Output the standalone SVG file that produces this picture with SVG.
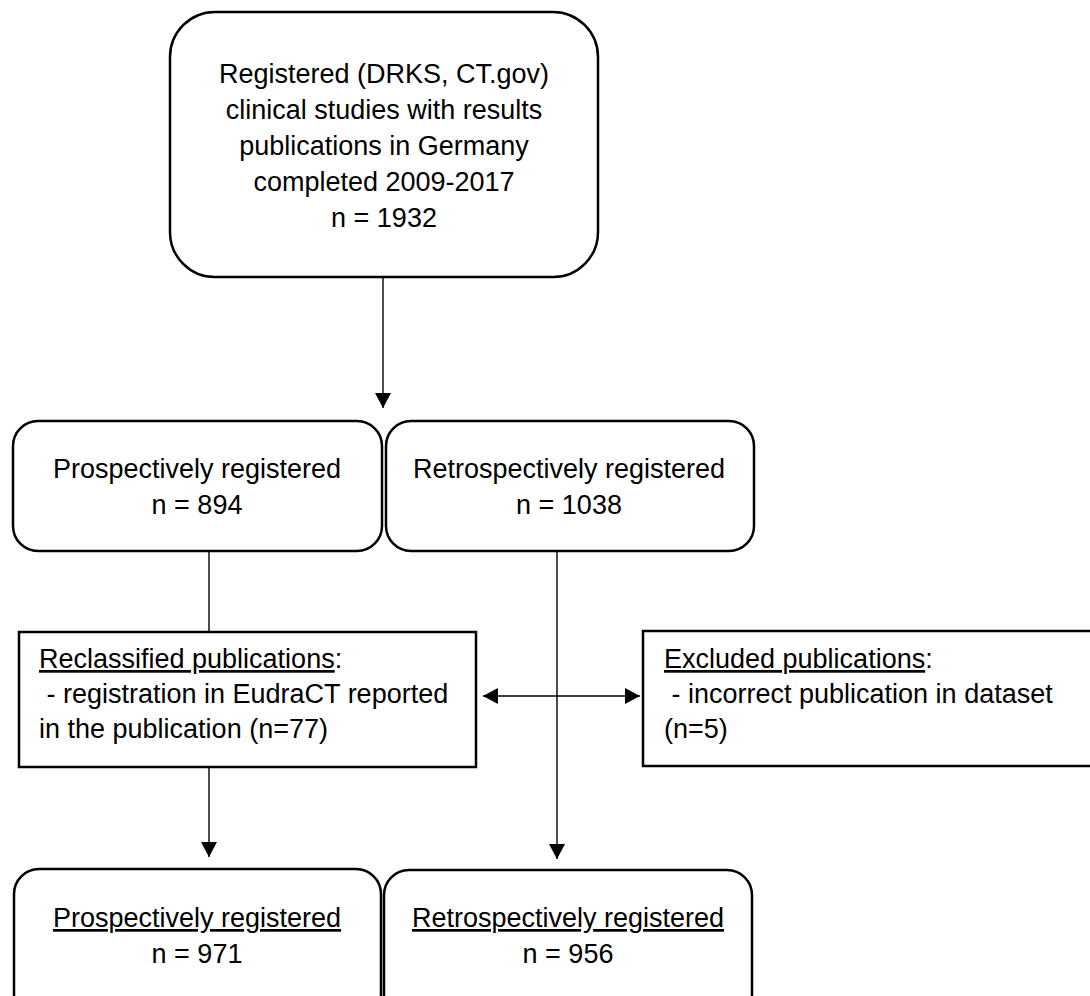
<svg xmlns="http://www.w3.org/2000/svg" width="1090" height="996" viewBox="0 0 1090 996">
<style>
  .box { fill: #ffffff; stroke: #000000; stroke-width: 2.5; }
  .t { font-family: "Liberation Sans", Arial, sans-serif; font-size: 27px; fill: #000000; }
  .c { text-anchor: middle; }
  .u { text-decoration: underline; }
  .conn { stroke: #000000; stroke-width: 1.4; fill: none; }
</style>
<defs>
  <marker id="arr" markerUnits="userSpaceOnUse" markerWidth="18" markerHeight="18" viewBox="0 0 18 18" refX="17" refY="9" orient="auto-start-reverse">
    <path d="M2,1 L17,9 L2,17 Z" fill="#000000"/>
  </marker>
</defs>
<rect width="1090" height="996" fill="#ffffff"/>

<g id="connectors">
  <line class="conn" x1="383" y1="277" x2="383" y2="408" marker-end="url(#arr)"/>
  <line class="conn" x1="209" y1="551" x2="209" y2="632"/>
  <line class="conn" x1="209" y1="767" x2="209" y2="857" marker-end="url(#arr)"/>
  <line class="conn" x1="557" y1="551" x2="557" y2="859" marker-end="url(#arr)"/>
  <line class="conn" x1="483" y1="696" x2="640" y2="696" marker-start="url(#arr)" marker-end="url(#arr)"/>
</g>

<g id="n_registered">
  <rect class="box" x="170" y="12" width="428" height="265" rx="45" ry="45"/>
  <text class="t c" x="384" y="83">Registered (DRKS, CT.gov)</text>
  <text class="t c" x="384" y="119">clinical studies with results</text>
  <text class="t c" x="384" y="155">publications in Germany</text>
  <text class="t c" x="384" y="191">completed 2009-2017</text>
  <text class="t c" x="384" y="227">n = 1932</text>
</g>

<g id="n_prosp1">
  <rect class="box" x="13" y="421" width="369" height="130" rx="25" ry="25"/>
  <text class="t c" x="197" y="478">Prospectively registered</text>
  <text class="t c" x="197" y="514">n = 894</text>
</g>

<g id="n_retro1">
  <rect class="box" x="386" y="421" width="368" height="130" rx="25" ry="25"/>
  <text class="t c" x="569" y="478">Retrospectively registered</text>
  <text class="t c" x="569" y="514">n = 1038</text>
</g>

<g id="n_reclassified">
  <rect class="box" x="19" y="632" width="457" height="135"/>
  <text class="t" x="39" y="668"><tspan class="u">Reclassified publications</tspan>:</text>
  <text class="t" x="39" y="703" xml:space="preserve"> - registration in EudraCT reported</text>
  <text class="t" x="39" y="738">in the publication (n=77)</text>
</g>

<g id="n_excluded">
  <rect class="box" x="643" y="631" width="460" height="135"/>
  <text class="t" x="664" y="668"><tspan class="u">Excluded publications</tspan>:</text>
  <text class="t" x="664" y="703" xml:space="preserve"> - incorrect publication in dataset</text>
  <text class="t" x="664" y="738">(n=5)</text>
</g>

<g id="n_prosp2">
  <rect class="box" x="14" y="869" width="367" height="150" rx="25" ry="25"/>
  <text class="t c u" x="197" y="927">Prospectively registered</text>
  <text class="t c" x="197" y="963">n = 971</text>
</g>

<g id="n_retro2">
  <rect class="box" x="384" y="870" width="368" height="150" rx="25" ry="25"/>
  <text class="t c u" x="568" y="927">Retrospectively registered</text>
  <text class="t c" x="568" y="963">n = 956</text>
</g>
</svg>
